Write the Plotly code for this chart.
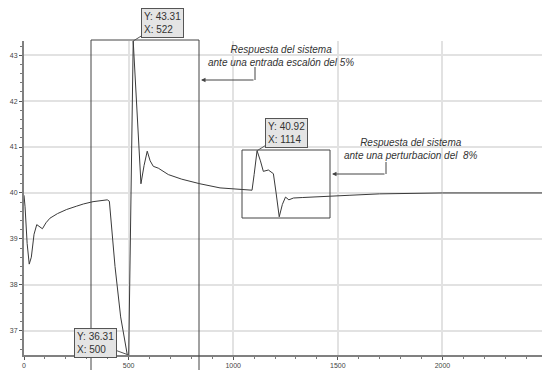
import plotly.graph_objects as go

# Process response: controlled variable vs. time
t = [0, 5, 15, 25, 35, 48, 61, 75, 88, 105, 124, 160, 204, 250, 284, 330, 363, 398,
     408, 435, 462, 500, 522, 559, 574, 589, 603, 618, 642, 690, 754, 817, 841, 937,
     1048, 1090, 1100, 1114, 1130, 1144, 1168, 1192, 1205, 1220, 1235, 1250, 1266,
     1288, 1330, 1400, 1558, 1700, 2000, 2480]
y = [39.95, 39.7, 38.9, 38.45, 38.6, 39.1, 39.31, 39.26, 39.22, 39.35, 39.45, 39.55,
     39.64, 39.71, 39.76, 39.81, 39.83, 39.85, 39.82, 38.4, 37.3, 36.31, 43.31, 40.2,
     40.6, 40.91, 40.7, 40.58, 40.54, 40.40, 40.30, 40.22, 40.20, 40.11, 40.07, 40.06,
     40.4, 40.92, 40.7, 40.47, 40.5, 40.42, 40.0, 39.48, 39.75, 39.91, 39.85, 39.89,
     39.9, 39.92, 39.95, 39.98, 40.0, 40.0]

x_ticks = [0, 500, 1000, 1500, 2000]
y_ticks = [37, 38, 39, 40, 41, 42, 43]

# Marked points (value read-outs)
peak_step = (522, 43.31)
min_step = (500, 36.31)
peak_dist = (1114, 40.92)

W, H = 542, 370
L, T, PW, PH = 24, 41, 518, 314
XR = [0, 2476]
YR = [36.47, 43.31]


def dx(px):
    return XR[0] + (px - L) / PW * (XR[1] - XR[0])


def dy(py):
    return YR[1] - (py - T) / PH * (YR[1] - YR[0])


FONT = "Liberation Sans, Arial, sans-serif"

fig = go.Figure()
fig.add_trace(go.Scatter(x=t, y=y, mode="lines",
                         line=dict(color="#3a3a3a", width=1),
                         hoverinfo="skip", showlegend=False))

axis_common = dict(showgrid=True, gridcolor="#e2e2e2", gridwidth=1.5,
                   showline=True, linecolor="#808080", linewidth=2,
                   ticks="outside", ticklen=3, tickcolor="#555",
                   tickfont=dict(family=FONT, size=7, color="#444"),
                   zeroline=False, fixedrange=True)

fig.update_xaxes(range=XR, tickvals=x_ticks, ticktext=[str(v) for v in x_ticks],
                 minor=dict(dtick=100, ticklen=2, tickcolor="#777", ticks="outside",
                            showgrid=False),
                 **axis_common)
fig.update_yaxes(range=YR, tickvals=y_ticks, ticktext=[str(v) for v in y_ticks],
                 minor=dict(dtick=0.2, tick0=37, ticklen=2, tickcolor="#777",
                            ticks="outside", showgrid=False),
                 **axis_common)

# Highlight boxes around the two transients
fig.add_shape(type="rect", xref="x", yref="paper",
              x0=dx(91), x1=dx(199), y0=-0.06, y1=(T + PH - 40) / PH,
              line=dict(color="#444", width=1), layer="above")
fig.add_shape(type="rect", xref="x", yref="y",
              x0=dx(242), x1=dx(330), y0=dy(218), y1=dy(150),
              line=dict(color="#444", width=1), layer="above")

# Leader lines from the captions to the boxes
fig.add_shape(type="line", xref="x", yref="y", x0=dx(255), x1=dx(255),
              y0=dy(67), y1=dy(80), line=dict(color="#444", width=1))
fig.add_shape(type="line", xref="x", yref="y", x0=dx(386), x1=dx(386),
              y0=dy(162), y1=dy(174), line=dict(color="#444", width=1))
fig.add_annotation(x=dx(201), y=dy(80), ax=54, ay=0, text="", showarrow=True,
                   arrowhead=2, arrowsize=0.9, arrowwidth=1, arrowcolor="#444")
fig.add_annotation(x=dx(332), y=dy(174), ax=54, ay=0, text="", showarrow=True,
                   arrowhead=2, arrowsize=0.9, arrowwidth=1, arrowcolor="#444")

# Captions
cap_font = dict(family=FONT, size=10, color="#333")
fig.add_annotation(x=dx(281), y=dy(56), xref="x", yref="y", showarrow=False,
                   text="<i>Respuesta del sistema<br>ante una entrada escalón del 5%</i>",
                   font=cap_font, align="center")
fig.add_annotation(x=dx(411), y=dy(149), xref="x", yref="y", showarrow=False,
                   text="<i>Respuesta del sistema<br>ante una perturbacion del\u00a0 8%</i>",
                   font=cap_font, align="center")

# Value read-outs
tag_font = dict(family=FONT, size=10, color="#333")
tag_style = dict(showarrow=True, arrowhead=0, arrowwidth=1, arrowcolor="#555",
                 bgcolor="#e4e4e4", bordercolor="#555", borderwidth=1, borderpad=2,
                 align="left", font=tag_font)
fig.add_annotation(x=peak_step[0], y=peak_step[1], ax=29, ay=-18,
                   text=f"Y: {peak_step[1]:.2f}<br>X: {peak_step[0]}", **tag_style)
fig.add_annotation(x=min_step[0], y=max(min_step[1], YR[0]), ax=-33, ay=-12,
                   text=f"Y: {min_step[1]:.2f}<br>X: {min_step[0]}", **tag_style)
fig.add_annotation(x=peak_dist[0], y=peak_dist[1], ax=29, ay=-18,
                   text=f"Y: {peak_dist[1]:.2f}<br>X: {peak_dist[0]}", **tag_style)

fig.update_layout(width=W, height=H,
                  margin=dict(l=L, r=W - L - PW, t=T, b=H - T - PH),
                  paper_bgcolor="white", plot_bgcolor="white",
                  showlegend=False)

fig.write_html("out.html", config={"displayModeBar": False})
